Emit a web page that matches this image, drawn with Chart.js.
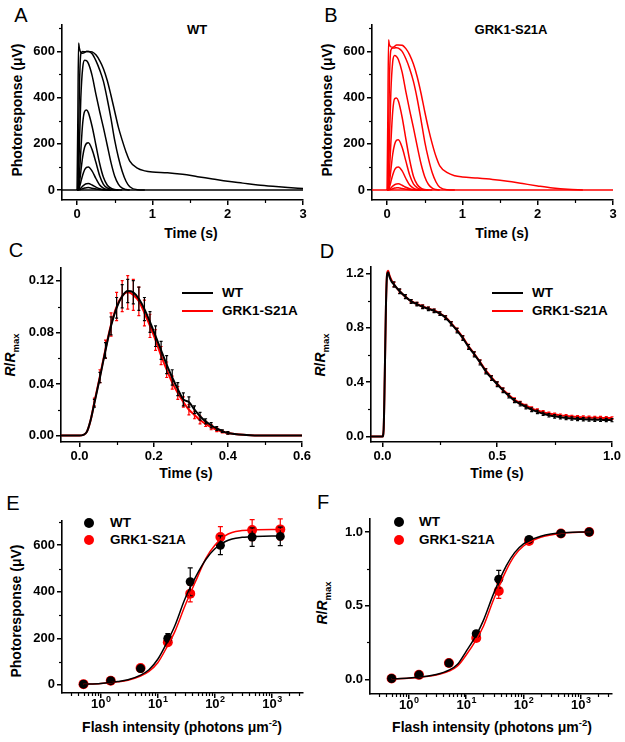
<!DOCTYPE html>
<html>
<head>
<meta charset="utf-8">
<script src="https://cdn.jsdelivr.net/npm/chart.js@4.4.1/dist/chart.umd.min.js"></script>
<style>
  body { margin: 0; width: 625px; height: 742px; background: #fff; position: relative; overflow: hidden;
         font-family: "Liberation Sans", Arial, sans-serif; color: #000; }
  canvas { position: absolute; }
  .t { position: absolute; transform: translate(-50%, -50%); white-space: nowrap; font-weight: bold;
       font-size: 14px; line-height: 1; }
  .t sup, .t sub { font-size: 9.5px; }
  .letter { font-weight: normal; font-size: 20px; }
  .rot { transform: translate(-50%, -50%) rotate(-90deg); }
  .leg { position: absolute; transform: translateY(-50%); white-space: nowrap; font-weight: bold; font-size: 13.5px; line-height: 1; }
  .sw { position: absolute; height: 2px; transform: translateY(-50%); }
  .dot { position: absolute; width: 10px; height: 10px; border-radius: 50%; transform: translate(-50%, -50%); }
</style>
</head>
<body>
<!-- panel letters, titles, axis titles, legends -->
<div class="t letter" style="left:21px;top:15px">A</div>
<div class="t letter" style="left:331px;top:15px">B</div>
<div class="t letter" style="left:16px;top:250px">C</div>
<div class="t letter" style="left:327px;top:251px">D</div>
<div class="t letter" style="left:13px;top:503px">E</div>
<div class="t letter" style="left:323px;top:502px">F</div>

<div class="t" style="left:197px;top:29px;font-size:13px">WT</div>
<div class="t" style="left:511px;top:29px;font-size:13px">GRK1-S21A</div>

<div class="t" style="left:191px;top:233px">Time (s)</div>
<div class="t" style="left:502px;top:233px">Time (s)</div>
<div class="t" style="left:186px;top:473px">Time (s)</div>
<div class="t" style="left:497px;top:473px">Time (s)</div>
<div class="t" style="left:182px;top:726px">Flash intensity (photons μm<sup>-2</sup>)</div>
<div class="t" style="left:492px;top:726px">Flash intensity (photons μm<sup>-2</sup>)</div>

<div class="t rot" style="left:17px;top:110px">Photoresponse (μV)</div>
<div class="t rot" style="left:327px;top:110px">Photoresponse (μV)</div>
<div class="t rot" style="left:12px;top:355px"><i>R</i>/<i>R</i><sub>max</sub></div>
<div class="t rot" style="left:322px;top:355px"><i>R</i>/<i>R</i><sub>max</sub></div>
<div class="t rot" style="left:16px;top:611px">Photoresponse (μV)</div>
<div class="t rot" style="left:324px;top:603px"><i>R</i>/<i>R</i><sub>max</sub></div>

<div class="sw" style="left:182px;top:293px;width:31px;background:#000"></div>
<div class="leg" style="left:222px;top:293px">WT</div>
<div class="sw" style="left:182px;top:311px;width:31px;background:#f00"></div>
<div class="leg" style="left:222px;top:311px">GRK1-S21A</div>
<div class="sw" style="left:492px;top:293px;width:31px;background:#000"></div>
<div class="leg" style="left:532px;top:293px">WT</div>
<div class="sw" style="left:492px;top:311px;width:31px;background:#f00"></div>
<div class="leg" style="left:532px;top:311px">GRK1-S21A</div>

<div class="dot" style="left:89px;top:523px;background:#000"></div>
<div class="leg" style="left:110px;top:523px">WT</div>
<div class="dot" style="left:89px;top:540px;background:#f00"></div>
<div class="leg" style="left:110px;top:540px">GRK1-S21A</div>
<div class="dot" style="left:399px;top:522px;background:#000"></div>
<div class="leg" style="left:419px;top:522px">WT</div>
<div class="dot" style="left:399px;top:540px;background:#f00"></div>
<div class="leg" style="left:419px;top:540px">GRK1-S21A</div>

<script>
// ── Data ─────────────────────────────────────────────────────────────
// A / B: flash response families (µV) on a shared time grid (s).
// Each curve lists values until it is back on the baseline.
const tA = [0, 0.01, 0.02, 0.03, 0.05, 0.075, 0.1, 0.125, 0.15, 0.2, 0.25, 0.3, 0.35, 0.4, 0.45,
            0.5, 0.55, 0.6, 0.65, 0.7, 0.8, 0.9, 1.0, 1.2, 1.4, 1.6, 1.8, 2.0, 2.2, 2.4, 2.6, 2.8, 3.0];
const tBase = [-0.2, 3.0];
const base = [0, 0];

const wt1 = [0, 0, 0.5, 1, 3, 6, 9, 10.5, 11, 8, 4.5, 2, 0.8, 0.3, 0];
const wt2 = [0, 0, 1, 3, 9, 17, 24, 27.5, 28, 22, 13, 6, 2.5, 1, 0.3, 0];
const wt3 = [0, 0, 3, 10, 35, 65, 88, 98, 100, 82, 50, 22, 8, 2, 0];
const wt4 = [0, 1, 8, 25, 80, 145, 185, 202, 205, 175, 120, 62, 25, 9, 3, 0.5, 0];
const wt5 = [0, 2, 20, 60, 170, 290, 340, 346, 335, 275, 195, 115, 55, 22, 8, 2, 0.5, 0];
const wt6 = [0, 5, 60, 180, 400, 530, 562, 560, 548, 495, 415, 340, 270, 195, 120, 60, 25, 8, 2, 0];
const wt7 = [0, 10, 200, 420, 590, 600, 598, 600, 600, 590, 560, 520, 470, 395, 310, 215, 140, 80, 38, 14, 1, 0];
const wt8 = [0, 300, 636, 615, 595, 592, 595, 600, 600, 598, 585, 560, 525, 475, 410, 340, 270, 215, 165,
             125, 95, 83, 78, 75, 68, 58, 48, 38, 30, 22, 16, 11, 7];

const s21a1 = [0, 0, 0.5, 1, 3, 5.5, 8.5, 9.5, 10, 7, 4, 1.8, 0.7, 0.2, 0];
const s21a2 = [0, 0, 1, 3, 9, 17, 23, 26.5, 27, 21, 12, 5.5, 2, 0.8, 0.2, 0];
const s21a3 = [0, 0, 3, 10, 35, 65, 88, 98, 100, 83, 50, 22, 8, 2, 0];
const s21a4 = [0, 1, 8, 27, 85, 155, 197, 215, 218, 185, 125, 65, 27, 10, 3, 0.5, 0];
const s21a5 = [0, 2, 22, 70, 200, 340, 395, 398, 385, 315, 220, 130, 60, 24, 8, 2, 0.5, 0];
const s21a6 = [0, 5, 65, 190, 420, 555, 582, 578, 565, 510, 425, 345, 270, 190, 115, 58, 24, 8, 2, 0];
const s21a7 = [0, 10, 220, 450, 605, 615, 615, 616, 614, 600, 568, 525, 470, 395, 305, 210, 135, 75, 35, 12, 1, 0];
const s21a8 = [0, 310, 650, 630, 620, 618, 622, 628, 628, 627, 612, 585, 545, 490, 420, 340, 265, 200, 145,
               105, 75, 62, 57, 52, 46, 38, 28, 18, 9, 3, 0];

// C: dim-flash R/Rmax, mean ± SEM
const tC = [-0.05, 0, 0.01, 0.02, 0.03, 0.04, 0.055, 0.07, 0.085, 0.1, 0.115, 0.13, 0.145, 0.16, 0.175, 0.19,
            0.205, 0.22, 0.235, 0.25, 0.265, 0.28, 0.295, 0.31, 0.325, 0.34, 0.355, 0.37, 0.385, 0.4, 0.45, 0.5, 0.6];
const wtC = [0, 0, 0.0005, 0.003, 0.012, 0.025, 0.045, 0.066, 0.085, 0.099, 0.108, 0.112, 0.111, 0.106, 0.098, 0.088,
             0.077, 0.066, 0.055, 0.045, 0.036, 0.028, 0.026, 0.02, 0.015, 0.011, 0.008, 0.0055, 0.0035, 0.002, 0.0004, 0, 0];
const wtCerr = [0, 0, 0, 0, 0, 0.003, 0.004, 0.006, 0.007, 0.008, 0.009, 0.009, 0.009, 0.009, 0.009, 0.008,
                0.008, 0.007, 0.007, 0.006, 0.005, 0.005, 0.004, 0.003, 0.003, 0.002, 0.002, 0.0015, 0.001, 0.001, 0, 0, 0];
const s21aC = [0, 0, 0.0005, 0.003, 0.012, 0.026, 0.046, 0.067, 0.086, 0.1, 0.108, 0.111, 0.109, 0.104, 0.095, 0.085,
               0.074, 0.062, 0.051, 0.041, 0.033, 0.026, 0.02, 0.016, 0.012, 0.009, 0.0065, 0.0045, 0.003, 0.002, 0.0004, 0, 0];
const s21aCerr = [0, 0, 0, 0, 0, 0.003, 0.005, 0.007, 0.009, 0.011, 0.012, 0.013, 0.012, 0.011, 0.01, 0.009,
                  0.008, 0.007, 0.006, 0.005, 0.005, 0.004, 0.004, 0.003, 0.003, 0.002, 0.002, 0.0015, 0.001, 0.001, 0, 0, 0];

// D: bright-flash R/Rmax, mean ± SEM
const tD = [-0.05, 0, 0.005, 0.01, 0.015, 0.02, 0.025, 0.03, 0.04,
            0.05, 0.075, 0.1, 0.125, 0.15, 0.175, 0.2, 0.225, 0.25, 0.275, 0.3, 0.325, 0.35, 0.375, 0.4, 0.425,
            0.45, 0.475, 0.5, 0.525, 0.55, 0.575, 0.6, 0.625, 0.65, 0.675, 0.7, 0.725, 0.75, 0.775, 0.8, 0.825,
            0.85, 0.875, 0.9, 0.925, 0.95, 0.975, 1.0];
const wtD = [0, 0, 0.05, 0.45, 0.95, 1.19, 1.21, 1.18, 1.14,
             1.12, 1.07, 1.03, 0.995, 0.975, 0.955, 0.94, 0.925, 0.905, 0.875, 0.83, 0.78, 0.725, 0.66, 0.605, 0.545,
             0.48, 0.43, 0.385, 0.34, 0.3, 0.265, 0.24, 0.218, 0.198, 0.182, 0.168, 0.157, 0.149, 0.142, 0.137, 0.133,
             0.13, 0.128, 0.126, 0.124, 0.123, 0.122, 0.121];
const wtDerr = [0, 0, 0, 0, 0, 0, 0, 0, 0,
                0.02, 0.018, 0.015, 0.014, 0.013, 0.013, 0.013, 0.013, 0.013, 0.014, 0.015, 0.016, 0.017, 0.018, 0.018, 0.018,
                0.018, 0.017, 0.017, 0.016, 0.016, 0.015, 0.015, 0.014, 0.014, 0.013, 0.013, 0.013, 0.013, 0.012, 0.012, 0.012,
                0.012, 0.012, 0.012, 0.012, 0.012, 0.012, 0.012];
const s21aD = [0, 0, 0.05, 0.45, 0.95, 1.2, 1.22, 1.19, 1.15,
               1.12, 1.07, 1.03, 0.997, 0.977, 0.958, 0.943, 0.928, 0.908, 0.878, 0.834, 0.785, 0.73, 0.665, 0.61, 0.55,
               0.487, 0.436, 0.39, 0.345, 0.307, 0.273, 0.248, 0.227, 0.208, 0.193, 0.18, 0.17, 0.162, 0.156, 0.151, 0.147,
               0.144, 0.142, 0.14, 0.139, 0.138, 0.137, 0.136];
const s21aDerr = [0, 0, 0, 0, 0, 0, 0, 0, 0,
                  0.015, 0.014, 0.012, 0.011, 0.011, 0.011, 0.011, 0.011, 0.011, 0.012, 0.012, 0.013, 0.013, 0.014, 0.014, 0.014,
                  0.014, 0.013, 0.013, 0.013, 0.012, 0.012, 0.012, 0.011, 0.011, 0.011, 0.011, 0.01, 0.01, 0.01, 0.01, 0.01,
                  0.01, 0.01, 0.01, 0.01, 0.01, 0.01, 0.01];

// E / F: intensity-response (photons µm^-2), points ± SEM and fitted curves
const flash = [0.5, 1.5, 5, 15, 37, 125, 450, 1400];
const wtE = [3, 18, 70, 200, 443, 600, 635, 638];
const wtEerr = [0, 3, 8, 20, 60, 40, 40, 40];
const s21aE = [3, 18, 72, 183, 392, 635, 665, 668];
const s21aEerr = [0, 3, 8, 15, 35, 45, 45, 45];
const wtF = [0.005, 0.03, 0.11, 0.31, 0.68, 0.95, 0.99, 1.0];
const wtFerr = [0, 0, 0, 0.02, 0.06, 0.01, 0.005, 0];
const s21aF = [0.005, 0.03, 0.11, 0.28, 0.6, 0.94, 0.99, 1.0];
const s21aFerr = [0, 0, 0, 0.02, 0.05, 0.02, 0.01, 0];

const fitX = [0.5, 1, 2, 3, 5, 7, 10, 15, 20, 30, 50, 70, 100, 150, 200, 300, 500, 1000, 1500];
const wtEfit = [3, 6, 14, 22, 42, 65, 110, 190, 255, 370, 480, 540, 585, 615, 627, 634, 638, 640, 640];
const s21aEfit = [3, 6, 13, 20, 38, 58, 95, 170, 230, 340, 465, 545, 600, 640, 655, 663, 667, 668, 668];
const wtFfit = [0.003, 0.008, 0.02, 0.032, 0.062, 0.1, 0.19, 0.3, 0.4, 0.58, 0.77, 0.86, 0.92, 0.955, 0.972, 0.986, 0.995, 1.0, 1.0];
const s21aFfit = [0.003, 0.007, 0.018, 0.029, 0.055, 0.088, 0.165, 0.27, 0.36, 0.54, 0.74, 0.84, 0.905, 0.945, 0.965, 0.98, 0.993, 0.999, 1.0];

// ── Helpers ──────────────────────────────────────────────────────────
const FONT = "'Liberation Sans', Arial, sans-serif";
const pts = (xs, ys) => ys.map((y, i) => ({ x: xs[i], y }));
function range(a, b, step) {               // minor tick positions
  const out = [];
  for (let v = a; v <= b + 1e-9; v += step) out.push(+v.toFixed(6));
  return out;
}
function logMinor(min, max) {
  const out = [];
  for (let d = 0.1; d <= 1000; d *= 10)
    for (let m = 2; m <= 9; m++) { const v = m * d; if (v >= min && v <= max) out.push(v); }
  return out;
}

function line(xs, ys, color, width, extra) {
  return Object.assign({
    data: pts(xs, ys), borderColor: color, backgroundColor: color, borderWidth: width,
    pointRadius: 0, cubicInterpolationMode: "monotone", fill: false,
  }, extra || {});
}

// error bars, drawn right after their own dataset so stacking order holds
const errorBars = {
  id: "errorBars",
  afterDatasetDraw(chart, args) {
    const ds = chart.data.datasets[args.index];
    if (!ds.errs) return;
    const ctx = chart.ctx, ys = chart.scales.y, cap = ds.cap || 2;
    ctx.save();
    ctx.strokeStyle = ds.borderColor;
    ctx.lineWidth = 1.2;
    args.meta.data.forEach((p, i) => {
      const e = ds.errs[i];
      if (!e) return;
      const v = ds.data[i].y;
      const y1 = ys.getPixelForValue(v + e), y2 = ys.getPixelForValue(v - e);
      ctx.beginPath();
      ctx.moveTo(p.x, y1); ctx.lineTo(p.x, y2);
      ctx.moveTo(p.x - cap, y1); ctx.lineTo(p.x + cap, y1);
      ctx.moveTo(p.x - cap, y2); ctx.lineTo(p.x + cap, y2);
      ctx.stroke();
    });
    ctx.restore();
  },
};

// short outward minor ticks + "10^n" labels for log axes
const axisExtras = {
  id: "axisExtras",
  afterDraw(chart, args, o) {
    const ctx = chart.ctx, xs = chart.scales.x, ys = chart.scales.y;
    ctx.save();
    ctx.strokeStyle = "#000";
    ctx.lineWidth = 1.2;
    (o.minorX || []).forEach((v) => {
      const px = Math.round(xs.getPixelForValue(v)) + 0.5;
      ctx.beginPath(); ctx.moveTo(px, xs.top); ctx.lineTo(px, xs.top + 3); ctx.stroke();
    });
    (o.minorY || []).forEach((v) => {
      const py = Math.round(ys.getPixelForValue(v)) + 0.5;
      ctx.beginPath(); ctx.moveTo(ys.right, py); ctx.lineTo(ys.right - 3, py); ctx.stroke();
    });
    if (o.pow) {
      ctx.fillStyle = "#000";
      ctx.textBaseline = "alphabetic";
      o.pow.forEach((e) => {
        const px = xs.getPixelForValue(Math.pow(10, e));
        ctx.font = `bold 13px ${FONT}`;
        const w1 = ctx.measureText("10").width;
        ctx.font = `bold 9px ${FONT}`;
        const w2 = ctx.measureText(String(e)).width;
        const x0 = px - (w1 + w2) / 2, base = xs.top + 15;
        ctx.font = `bold 13px ${FONT}`;
        ctx.fillText("10", x0, base);
        ctx.font = `bold 9px ${FONT}`;
        ctx.fillText(String(e), x0 + w1 + 0.5, base - 6);
      });
    }
    ctx.restore();
  },
};

function axis(type, min, max, ticks, fmt, fit) {
  return {
    type, min, max,
    border: { display: true, color: "#000", width: 1.6 },
    grid: { display: true, drawOnChartArea: false, drawTicks: true, tickLength: 5, color: "#000", lineWidth: 1.5 },
    ticks: {
      display: !!fmt, color: "#000", padding: 2, autoSkip: false, maxRotation: 0,
      font: { family: FONT, size: 13, weight: "bold" },
      callback: (v) => (fmt ? fmt(v) : ""),
    },
    afterBuildTicks: (s) => { s.ticks = ticks.map((v) => ({ value: v })); },
    afterFit: fit,
  };
}

// place one panel so its plot area lands on [l, r] x [t, b] of the page
function panel(area, scalesX, scalesY, datasets, extras) {
  const PL = 5, YW = 45, PR = 14, PT = 8, XH = 30;
  const cv = document.createElement("canvas");
  cv.width = area.r - area.l + PL + YW + PR;
  cv.height = area.b - area.t + PT + XH;
  cv.style.left = area.l - PL - YW + "px";
  cv.style.top = area.t - PT + "px";
  document.body.appendChild(cv);
  scalesX.afterFit = (s) => { s.height = XH; };
  scalesY.afterFit = (s) => { s.width = YW; };
  return new Chart(cv, {
    type: "line",
    data: { datasets },
    options: {
      responsive: false, animation: false, devicePixelRatio: 1,
      layout: { padding: { left: PL, right: PR, top: PT, bottom: 0 } },
      plugins: { legend: { display: false }, tooltip: { enabled: false }, axisExtras: extras },
      scales: { x: scalesX, y: scalesY },
    },
    plugins: [errorBars, axisExtras],
  });
}

const f0 = (v) => String(v);
const f1 = (v) => v.toFixed(1);
const f2 = (v) => v.toFixed(2);

// ── Panels ───────────────────────────────────────────────────────────
// A: WT family
panel({ l: 62, r: 303, t: 23, b: 200 },
  axis("linear", -0.2, 3, [0, 1, 2, 3], f0),
  axis("linear", -43, 715, [0, 200, 400, 600], f0),
  [line(tBase, base, "#000", 1.5)].concat(
    [wt1, wt2, wt3, wt4, wt5, wt6, wt7, wt8].map((c) => line(tA.slice(0, c.length), c, "#000", 1.5))),
  { minorX: range(0.5, 2.5, 1), minorY: range(100, 700, 200) });

// B: GRK1-S21A family
panel({ l: 372, r: 613, t: 23, b: 200 },
  axis("linear", -0.2, 3, [0, 1, 2, 3], f0),
  axis("linear", -43, 715, [0, 200, 400, 600], f0),
  [line(tBase, base, "#f00", 1.5)].concat(
    [s21a1, s21a2, s21a3, s21a4, s21a5, s21a6, s21a7, s21a8].map((c) => line(tA.slice(0, c.length), c, "#f00", 1.5))),
  { minorX: range(0.5, 2.5, 1), minorY: range(100, 700, 200) });

// C: dim flash, normalized
panel({ l: 61, r: 302, t: 266, b: 442 },
  axis("linear", -0.05, 0.6, [0, 0.2, 0.4, 0.6], f1),
  axis("linear", -0.005, 0.13, [0, 0.04, 0.08, 0.12], f2),
  [line(tC, wtC, "#000", 2, { errs: wtCerr, cap: 1.5 }),
   line(tC, s21aC, "#f00", 2, { errs: s21aCerr, cap: 1.5 })],
  { minorX: range(0.1, 0.5, 0.2), minorY: range(0.02, 0.1, 0.04) });

// D: bright flash, normalized
panel({ l: 371, r: 612, t: 265, b: 442 },
  axis("linear", -0.05, 1.0, [0, 0.5, 1.0], f1),
  axis("linear", -0.04, 1.25, [0, 0.4, 0.8, 1.2], f1),
  [line(tD, wtD, "#000", 2, { errs: wtDerr, cap: 1.5 }),
   line(tD, s21aD, "#f00", 2, { errs: s21aDerr, cap: 1.5 })],
  { minorX: range(0.25, 0.75, 0.5), minorY: range(0.2, 1.0, 0.4) });

// E: intensity-response, µV
panel({ l: 62, r: 303, t: 519, b: 693 },
  axis("logarithmic", 0.21, 3500, [1, 10, 100, 1000], null),
  axis("linear", -35, 705, [0, 200, 400, 600], f0),
  [line(fitX, wtEfit, "#000", 1.5),
   line(fitX, s21aEfit, "#f00", 1.5),
   line(flash, wtE, "#000", 0, { showLine: false, pointRadius: 4.5, errs: wtEerr, cap: 2.5 }),
   line(flash, s21aE, "#f00", 0, { showLine: false, pointRadius: 5, errs: s21aEerr, cap: 2.5 })],
  { minorX: logMinor(0.21, 3500), minorY: range(100, 700, 200), pow: [0, 1, 2, 3] });

// F: intensity-response, normalized
panel({ l: 370, r: 612, t: 517, b: 694 },
  axis("logarithmic", 0.21, 3500, [1, 10, 100, 1000], null),
  axis("linear", -0.1, 1.09, [0, 0.5, 1.0], f1),
  [line(fitX, wtFfit, "#000", 1.5),
   line(fitX, s21aFfit, "#f00", 1.5),
   line(flash, wtF, "#000", 0, { showLine: false, pointRadius: 4.5, errs: wtFerr, cap: 2.5 }),
   line(flash, s21aF, "#f00", 0, { showLine: false, pointRadius: 5, errs: s21aFerr, cap: 2.5 })],
  { minorX: logMinor(0.21, 3500), minorY: range(0.25, 0.75, 0.5), pow: [0, 1, 2, 3] });
</script>
</body>
</html>
